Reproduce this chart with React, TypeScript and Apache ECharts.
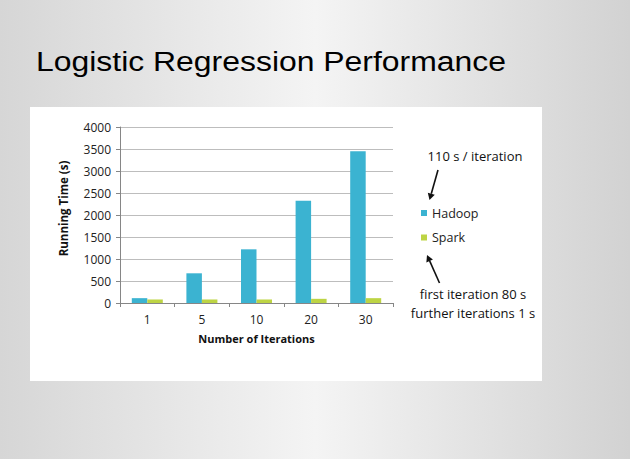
import React, { useEffect, useRef } from "react";
import * as echarts from "echarts";

const categories = ["1", "5", "10", "20", "30"];
const hadoopValues = [110, 675, 1220, 2325, 3450];
const sparkValues = [80, 80, 80, 95, 110];
const seriesNames = ["Hadoop", "Spark"];
const titleText = "Logistic Regression Performance";
const yAxisName = "Running Time (s)";
const xAxisName = "Number of Iterations";
const noteTop = "110 s / iteration";
const noteBottom1 = "first iteration 80 s";
const noteBottom2 = "further iterations 1 s";

function arrow(x1: number, y1: number, x2: number, y2: number) {
  const dx = x2 - x1;
  const dy = y2 - y1;
  const len = Math.sqrt(dx * dx + dy * dy);
  const ux = dx / len;
  const uy = dy / len;
  const hl = 6.5;
  const hw = 3.6;
  const bx = x2 - ux * hl;
  const by = y2 - uy * hl;
  const px = -uy;
  const py = ux;
  return [
    {
      type: "line",
      shape: { x1, y1, x2: bx, y2: by },
      style: { stroke: "#111", lineWidth: 1.6 },
    },
    {
      type: "polygon",
      shape: {
        points: [
          [x2, y2],
          [bx + px * hw, by + py * hw],
          [bx - px * hw, by - py * hw],
        ],
      },
      style: { fill: "#111" },
    },
  ];
}

export default function App() {
  const ref = useRef<HTMLDivElement>(null);
  useEffect(() => {
    if (!ref.current) return;
    const chart = echarts.init(ref.current, null, { renderer: "svg" });
    const font = "'Open Sans', 'Noto Sans', sans-serif";
    chart.setOption({
      animation: false,
      backgroundColor: {
        type: "linear",
        x: 0,
        y: 0,
        x2: 1,
        y2: 0,
        colorStops: [
          { offset: 0, color: "#d6d6d6" },
          { offset: 0.5, color: "#f4f4f4" },
          { offset: 1, color: "#d2d2d2" },
        ],
      },
      textStyle: { fontFamily: font },
      grid: { left: 120, right: 237, top: 127, bottom: 156, containLabel: false },
      legend: {
        data: seriesNames,
        orient: "vertical",
        left: 416,
        top: 201,
        itemWidth: 6,
        itemHeight: 6,
        itemGap: 10.5,
        icon: "rect",
        textStyle: { fontFamily: font, fontSize: 12.5, color: "#222", lineHeight: 14 },
      },
      xAxis: {
        type: "category",
        data: categories,
        name: xAxisName,
        nameLocation: "middle",
        nameGap: 30,
        nameTextStyle: { fontFamily: font, fontSize: 11, fontWeight: "bold", color: "#111" },
        axisLine: { show: true, lineStyle: { color: "#868686", width: 1 } },
        axisTick: { show: true, length: 4, lineStyle: { color: "#868686" } },
        axisLabel: { fontFamily: font, fontSize: 12, color: "#222", margin: 10 },
        splitLine: { show: false },
      },
      yAxis: {
        type: "value",
        min: 0,
        max: 4000,
        interval: 500,
        name: yAxisName,
        nameLocation: "middle",
        nameGap: 51,
        nameTextStyle: {
          fontFamily: font,
          fontSize: 11.5,
          fontWeight: "bold",
          color: "#111",
          padding: [0, 0, 0, 13],
        },
        axisLine: { show: true, lineStyle: { color: "#868686", width: 1 } },
        axisTick: { show: true, length: 4, lineStyle: { color: "#868686" } },
        axisLabel: {
          fontFamily: font,
          fontSize: 12,
          color: "#222",
          margin: 9,
          formatter: (v: number) => String(v),
        },
        splitLine: { show: true, lineStyle: { color: "#bdbdbd", width: 1 } },
      },
      series: [
        {
          name: seriesNames[0],
          type: "bar",
          data: hadoopValues,
          barWidth: 15.5,
          barGap: "0%",
          itemStyle: { color: "#3bb3d1" },
        },
        {
          name: seriesNames[1],
          type: "bar",
          data: sparkValues,
          barWidth: 15.5,
          barGap: "0%",
          itemStyle: { color: "#bdd444" },
        },
      ],
      graphic: [
        {
          type: "rect",
          z: -10,
          shape: { x: 30, y: 107, width: 512, height: 274 },
          style: { fill: "#ffffff" },
        },
        {
          type: "text",
          x: 36,
          y: 61,
          scaleX: 1.14,
          style: {
            text: titleText,
            fontFamily: "'Liberation Sans', Arial, sans-serif",
            fontSize: 28,
            fill: "#000",
            verticalAlign: "middle",
            align: "left",
          },
        },
        {
          type: "text",
          x: 475,
          y: 156,
          style: {
            text: noteTop,
            fontFamily: font,
            fontSize: 13,
            fill: "#111",
            align: "center",
            verticalAlign: "middle",
          },
        },
        {
          type: "text",
          x: 473,
          y: 294,
          style: {
            text: noteBottom1,
            fontFamily: font,
            fontSize: 13,
            fill: "#111",
            align: "center",
            verticalAlign: "middle",
          },
        },
        {
          type: "text",
          x: 473,
          y: 313,
          style: {
            text: noteBottom2,
            fontFamily: font,
            fontSize: 13,
            fill: "#111",
            align: "center",
            verticalAlign: "middle",
          },
        },
        ...arrow(438, 170, 429.5, 200),
        ...arrow(439.5, 283, 427, 255),
      ],
    });
    return () => chart.dispose();
  }, []);
  return (
    <div
      ref={ref}
      style={{ position: "absolute", left: 0, top: 0, width: 630, height: 459 }}
    />
  );
}
